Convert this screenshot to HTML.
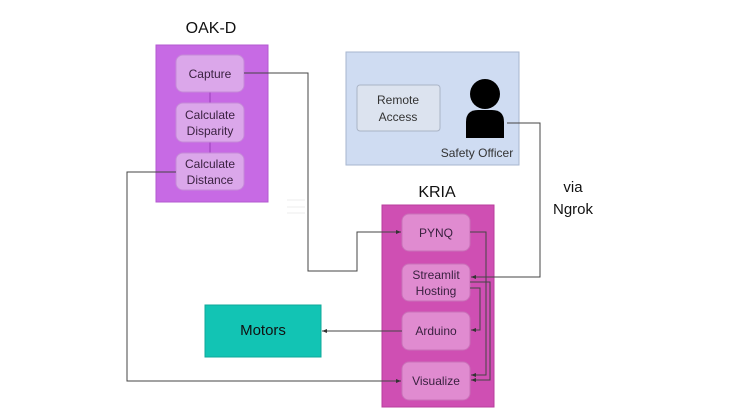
<!DOCTYPE html>
<html><head><style>body{margin:0;background:#fff}svg{display:block}text{font-family:"Liberation Sans",sans-serif}</style></head>
<body>
<svg width="740" height="416" viewBox="0 0 740 416" xmlns="http://www.w3.org/2000/svg">
<defs><marker id="a" markerWidth="6" markerHeight="6" refX="5" refY="3" orient="auto"><path d="M0,1 L5,3 L0,5z" fill="#333"/></marker></defs>
<text x="211" y="33" font-size="16" text-anchor="middle" fill="#111">OAK-D</text>
<text x="437" y="197" font-size="16" text-anchor="middle" fill="#111">KRIA</text>
<text x="573" y="192" font-size="15" text-anchor="middle" fill="#111">via</text>
<text x="573" y="214" font-size="15" text-anchor="middle" fill="#111">Ngrok</text>
<rect x="156" y="45" width="112" height="157" fill="#c76ae4" stroke="#b35ad0"/>
<line x1="210" y1="92" x2="210" y2="103" stroke="#9a3fb8"/>
<line x1="210" y1="142" x2="210" y2="153" stroke="#9a3fb8"/>
<g fill="#dba7ea" stroke="#c58ad8">
<rect x="176" y="55" width="68" height="37" rx="7"/>
<rect x="176" y="103" width="68" height="39" rx="7"/>
<rect x="176" y="153" width="68" height="37" rx="7"/>
</g>
<g font-size="12" fill="#3a2140" text-anchor="middle">
<text x="210" y="78">Capture</text>
<text x="210" y="119">Calculate</text><text x="210" y="135">Disparity</text>
<text x="210" y="168">Calculate</text><text x="210" y="184">Distance</text>
</g>
<rect x="346" y="52" width="173" height="113" fill="#cfdcf2" stroke="#a7b6cf"/>
<rect x="357" y="85" width="83" height="46" rx="3" fill="#dce3ef" stroke="#aab4c6"/>
<text x="398" y="104" font-size="12" text-anchor="middle" fill="#333">Remote</text>
<text x="398" y="121" font-size="12" text-anchor="middle" fill="#333">Access</text>
<circle cx="485" cy="94" r="15" fill="#000"/>
<path d="M466,138 L466,122 Q466,110 478,110 L492,110 Q504,110 504,122 L504,138 Z" fill="#000"/>
<text x="477" y="157" font-size="12" text-anchor="middle" fill="#333">Safety Officer</text>
<rect x="382" y="205" width="112" height="202" fill="#cf4fb3" stroke="#b83e9c"/>
<g fill="#e08bd0" stroke="#c970b8">
<rect x="402" y="214" width="68" height="37" rx="7"/>
<rect x="402" y="264" width="68" height="37" rx="7"/>
<rect x="402" y="312" width="68" height="38" rx="7"/>
<rect x="402" y="362" width="68" height="38" rx="7"/>
</g>
<g font-size="12" fill="#3a2140" text-anchor="middle">
<text x="436" y="237">PYNQ</text>
<text x="436" y="279">Streamlit</text><text x="436" y="295">Hosting</text>
<text x="436" y="335">Arduino</text>
<text x="436" y="385">Visualize</text>
</g>
<rect x="205" y="305" width="116" height="52" fill="#12c4b4" stroke="#0fa89a"/>
<text x="263" y="335" font-size="15" text-anchor="middle" fill="#111">Motors</text>
<g fill="none" stroke="#444" stroke-width="1">
<path d="M244,73 H308 V271 H357 V232 H401" marker-end="url(#a)"/>
<path d="M176,172 H127 V381 H401" marker-end="url(#a)"/>
<path d="M402,331 H322" marker-end="url(#a)"/>
<path d="M507,123 H540 V277 H471" marker-end="url(#a)"/>
<path d="M470,232 H486 V375 H471" marker-end="url(#a)"/>
<path d="M470,288 H480 V330 H471" marker-end="url(#a)"/>
<path d="M470,282 H490 V380 H471" marker-end="url(#a)"/>
</g>
<g stroke="#eee"><line x1="287" y1="200" x2="305" y2="200"/><line x1="287" y1="207" x2="305" y2="207"/><line x1="287" y1="213" x2="305" y2="213"/></g>
</svg>
</body></html>
